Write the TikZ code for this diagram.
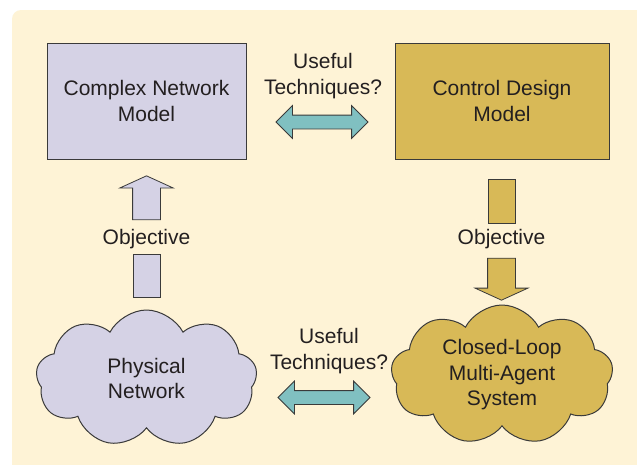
\documentclass[tikz,border=0pt]{standalone}
\usepackage{fontspec}
\setmainfont{Liberation Sans}
\usetikzlibrary{shapes.arrows,shapes.symbols}
\definecolor{panelbg}{HTML}{FEF3D6}
\definecolor{lav}{HTML}{D5D2E5}
\definecolor{mustard}{HTML}{D8B957}
\definecolor{tealarrow}{HTML}{80C0C1}
\definecolor{edge}{HTML}{3A3A3A}
\definecolor{ink}{HTML}{231F20}
\begin{document}
\begin{tikzpicture}[x=1pt,y=-1pt,
  txt/.style={font=\fontsize{21}{25.5}\selectfont, align=center, text=ink},
  box/.style={txt, draw=edge, line width=1pt, minimum height=116pt, inner sep=0pt},
  blob/.style={txt, cloud, cloud puffs=9, cloud puff arc=125, cloud ignores aspect, draw=edge, line width=1pt, inner sep=0pt},
  twoway/.style={double arrow, double arrow head extend=9.5pt, minimum height=92pt, inner xsep=0pt, inner ysep=6.5pt, fill=tealarrow, draw=edge, line width=0.8pt},
  bigtip/.style={single arrow, single arrow head extend=13pt, single arrow tip angle=131, minimum height=44pt, inner xsep=0pt, inner ysep=13.5pt, draw=edge, line width=0.8pt},
  stub/.style={rectangle, minimum width=27pt, minimum height=43pt, inner sep=0pt, draw=edge, line width=0.8pt}]
\clip (0,0) rectangle (637,464);
\fill[white] (0,0) rectangle (637,464);
\fill[panelbg, rounded corners=9pt] (12,10) rectangle (650,480);
\node[box, fill=lav, minimum width=199pt] (cnm) at (146.5,101) {Complex Network\\Model};
\node[box, fill=mustard, minimum width=214pt] (cdm) at (502,101) {Control Design\\Model};
\node[blob, fill=lav, minimum width=221pt, minimum height=137pt] (phys) at (146.5,378.5) {Physical\\Network};
\node[blob, fill=mustard, minimum width=222pt, minimum height=140pt] (clms) at (502,375) {Closed-Loop\\Multi-Agent\\System};
\node[txt] (usetop) at (323,76) {Useful\\Techniques?};
\node[twoway] (linktop) at (322,122) {};
\node[txt] (usebot) at (329,351) {Useful\\Techniques?};
\node[twoway] (linkbot) at (324,397.5) {};
\node[txt] (objleft) at (146.5,239) {Objective};
\node[bigtip, fill=lav, rotate=90] (upleft) at (146.5,201) {};
\node[stub, fill=lav] (stubleft) at (146.5,276) {};
\node[txt] (objright) at (501.5,239) {Objective};
\node[stub, fill=mustard, minimum height=44pt] (stubright) at (501.5,201) {};
\node[bigtip, fill=mustard, rotate=-90, minimum height=42pt, single arrow head extend=12.5pt] (downright) at (501.5,276) {};
\end{tikzpicture}
\end{document}
